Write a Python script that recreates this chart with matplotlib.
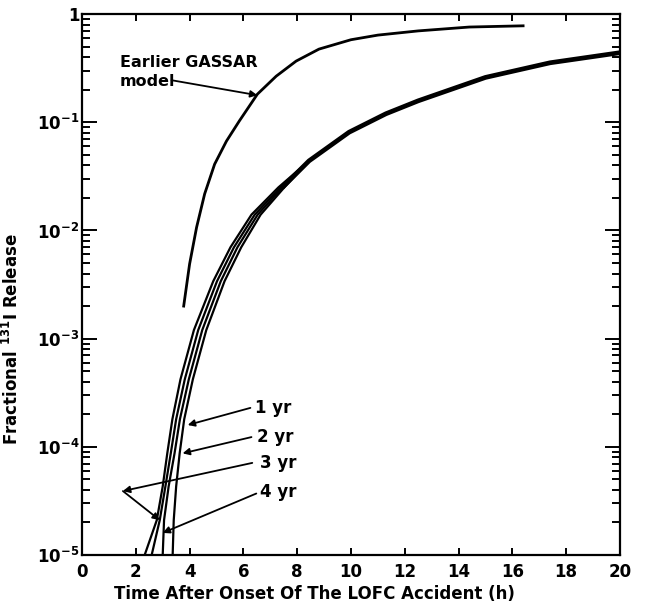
import matplotlib
matplotlib.use("Agg")
import matplotlib.pyplot as plt
import numpy as np
from matplotlib.ticker import FixedLocator, FixedFormatter, LogLocator, NullFormatter

plt.rcParams["font.family"] = ["DejaVu Sans"]
plt.rcParams["font.weight"] = "bold"
plt.rcParams["mathtext.default"] = "bf"

# earlier GASSAR model curve
gassar_t = [3.78, 4.0, 4.26, 4.56, 4.93, 5.37, 5.85, 6.52, 7.22, 7.96, 8.81, 10.0, 11.0,
            12.5, 14.4, 16.4]
gassar_f = [2.0e-3, 4.9e-3, 1.07e-2, 2.18e-2, 4.1e-2, 6.7e-2, 0.103, 0.182, 0.267, 0.368,
            0.475, 0.58, 0.64, 0.70, 0.76, 0.78]

# lower part of the four fuel-age curves (shared release levels)
low_f = [1.0e-5, 2.1e-5, 4.3e-5, 8.7e-5, 1.8e-4, 4.2e-4, 1.2e-3, 3.4e-3, 7.0e-3, 1.4e-2, 2.5e-2]
t_4yr = [2.33, 2.78, 3.00, 3.17, 3.36, 3.66, 4.16, 4.88, 5.52, 6.30, 7.30]
t_3yr = [2.59, 2.89, 3.10, 3.30, 3.50, 3.82, 4.32, 5.02, 5.65, 6.42, 7.38]
t_2yr = [3.00, 3.05, 3.22, 3.44, 3.64, 3.97, 4.47, 5.16, 5.78, 6.53, 7.45]
t_1yr = [3.37, 3.41, 3.50, 3.63, 3.80, 4.12, 4.62, 5.30, 5.92, 6.64, 7.52]

# merged upper part of the bundle
tail_t = [7.45, 8.44, 9.93, 11.3, 12.5, 15.0, 17.4, 20.0]
tail_f = [2.5e-2, 4.4e-2, 8.1e-2, 0.12, 0.158, 0.26, 0.355, 0.44]

ytick_vals = [1e-5, 1e-4, 1e-3, 1e-2, 1e-1, 1]
ytick_labels = ["10$^{-5}$", "10$^{-4}$", "10$^{-3}$", "10$^{-2}$", "10$^{-1}$", "1"]
xtick_vals = list(range(0, 21, 2))

fig = plt.figure(figsize=(6.52, 6.07), dpi=100)
ax = fig.add_axes([0.1258, 0.0857, 0.825, 0.891])

ax.plot(gassar_t, gassar_f, color="black", lw=2.0)
for t in (t_4yr, t_3yr, t_2yr, t_1yr):
    ax.plot(t + tail_t[1:3], low_f + tail_f[1:3], color="black", lw=1.6)
ax.plot(tail_t, tail_f, color="black", lw=3.4, solid_capstyle="butt")

ax.set_yscale("log")
ax.set_xlim(0, 20)
ax.set_ylim(1e-5, 1)

ax.xaxis.set_major_locator(FixedLocator(xtick_vals))
ax.yaxis.set_major_locator(FixedLocator(ytick_vals))
ax.yaxis.set_major_formatter(FixedFormatter(ytick_labels))
ax.yaxis.set_minor_locator(LogLocator(base=10, subs=np.arange(2, 10)))
ax.yaxis.set_minor_formatter(NullFormatter())

ax.tick_params(axis="both", which="both", direction="in", top=True, right=True,
               width=1.4, labelsize=12)
ax.tick_params(axis="x", which="major", length=5, pad=6)
ax.tick_params(axis="y", which="major", length=11, pad=2)
ax.tick_params(axis="y", which="minor", length=5.5)
for lab in ax.get_xticklabels() + ax.get_yticklabels():
    lab.set_fontweight("bold")
for sp in ax.spines.values():
    sp.set_linewidth(1.6)

ax.set_xlabel("Time After Onset Of The LOFC Accident (h)", fontsize=12, fontweight="bold")
ax.set_ylabel("Fractional $^{131}$I Release", fontsize=12, fontweight="bold")
ax.xaxis.set_label_coords(0.433, -0.056)
ax.yaxis.set_label_coords(-0.112, 0.40)

arrow = dict(arrowstyle="-|>", color="black", lw=1.3, mutation_scale=10, shrinkA=0, shrinkB=0)
ax.annotate("", xy=(6.52, 0.178), xytext=(3.33, 0.245), arrowprops=arrow)
ax.text(1.41, 0.29, "Earlier GASSAR\nmodel", fontsize=11.5, fontweight="bold",
        ha="left", va="center", linespacing=1.3)

ax.annotate("", xy=(3.93, 1.59e-4), xytext=(6.26, 2.29e-4), arrowprops=arrow)
ax.annotate("", xy=(3.74, 8.7e-5), xytext=(6.30, 1.23e-4), arrowprops=arrow)
ax.annotate("", xy=(1.52, 3.9e-5), xytext=(6.33, 7.1e-5), arrowprops=arrow)
ax.annotate("", xy=(2.89, 2.1e-5), xytext=(1.52, 3.9e-5), arrowprops=arrow)
ax.annotate("", xy=(3.0, 1.6e-5), xytext=(6.48, 3.7e-5), arrowprops=arrow)

for lbl, tx, fy in [("1 yr", 6.44, 2.29e-4), ("2 yr", 6.52, 1.23e-4),
                    ("3 yr", 6.6, 7.1e-5), ("4 yr", 6.63, 3.8e-5)]:
    ax.text(tx, fy, lbl, fontsize=12, fontweight="bold", ha="left", va="center")

fig.savefig("out.png", dpi=100)
